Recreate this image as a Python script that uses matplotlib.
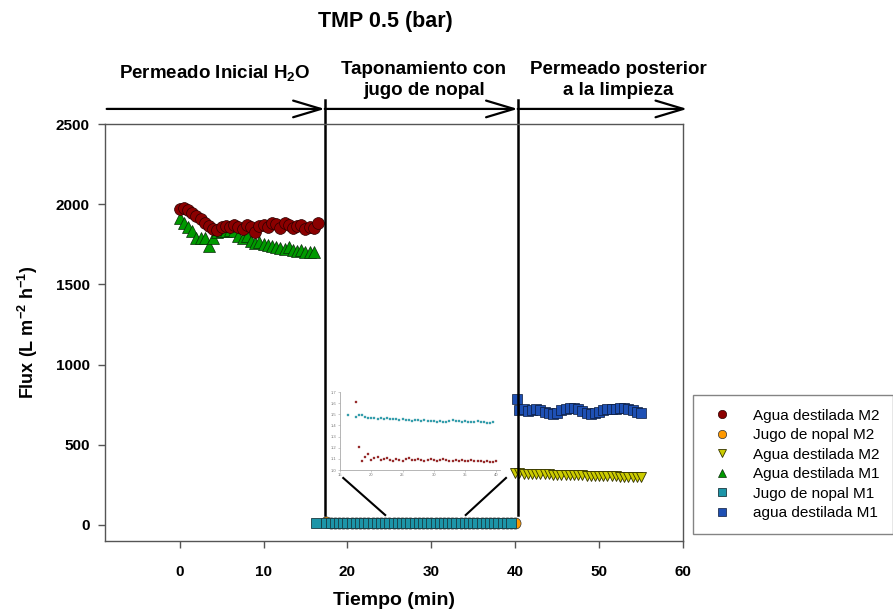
import matplotlib
matplotlib.use('Agg')
import matplotlib.pyplot as plt
from matplotlib.lines import Line2D

plt.rcParams['font.family'] = ['Liberation Sans', 'DejaVu Sans']
plt.rcParams['mathtext.fontset'] = 'custom'
plt.rcParams['mathtext.rm'] = 'Liberation Sans'
plt.rcParams['mathtext.bf'] = 'Liberation Sans:bold'
plt.rcParams['mathtext.it'] = 'Liberation Sans:italic'

# ---------------------------------------------------------------------
# data (time in min, flux in L m-2 h-1)

t_h2o = [0, 0.5, 1, 1.5, 2, 2.5, 3, 3.5, 4, 4.5, 5, 5.5, 6, 6.5, 7, 7.5,
         8, 8.5, 9, 9.5, 10, 10.5, 11, 11.5, 12, 12.5, 13, 13.5, 14, 14.5,
         15, 15.5, 16, 16.5]

agua_m2_ini = [1970, 1975, 1965, 1945, 1925, 1905, 1885, 1865, 1845, 1840,
               1860, 1865, 1855, 1870, 1860, 1845, 1870, 1855, 1825, 1865,
               1870, 1860, 1885, 1875, 1850, 1880, 1870, 1850, 1865, 1870,
               1845, 1860, 1850, 1880]

agua_m1_ini = [1915, 1880, 1860, 1830, 1790, 1790, 1790, 1740, 1790, 1825,
               1835, 1830, 1840, 1830, 1800, 1790, 1800, 1770, 1760, 1765,
               1750, 1745, 1740, 1730, 1725, 1720, 1730, 1715, 1710, 1715,
               1700, 1705, 1705]

t_jugo = [17.5, 18, 18.5, 19, 19.5, 20, 20.5, 21, 21.5, 22, 22.5, 23, 23.5,
          24, 24.5, 25, 25.5, 26, 26.5, 27, 27.5, 28, 28.5, 29, 29.5, 30,
          30.5, 31, 31.5, 32, 32.5, 33, 33.5, 34, 34.5, 35, 35.5, 36, 36.5,
          37, 37.5, 38, 38.5, 39, 39.5, 40]

jugo_m2 = [16.1, 12.1, 10.8, 11.2, 11.4, 10.9, 11.1, 11.2, 10.9, 11.0,
           11.1, 10.9, 10.8, 11.0, 10.9, 10.8, 11.0, 11.1, 10.9, 10.9,
           11.0, 10.9, 10.8, 10.9, 11.0, 10.9, 10.8, 10.9, 11.0, 10.9,
           10.8, 10.8, 10.9, 10.8, 10.9, 10.8, 10.8, 10.9, 10.8, 10.8,
           10.8, 10.7, 10.8, 10.7, 10.7, 10.8]

t_jugo_m1 = [16.3] + t_jugo[:-1]
jugo_m1 = [14.9, 14.8, 14.9, 14.9, 14.8, 14.7, 14.7, 14.7, 14.6, 14.7,
           14.6, 14.7, 14.6, 14.6, 14.6, 14.5, 14.6, 14.5, 14.5, 14.4,
           14.5, 14.5, 14.4, 14.5, 14.4, 14.4, 14.4, 14.3, 14.4, 14.3,
           14.3, 14.4, 14.5, 14.4, 14.4, 14.3, 14.4, 14.3, 14.3, 14.3,
           14.4, 14.3, 14.3, 14.2, 14.2, 14.3]

t_limp = [40.5, 41, 41.5, 42, 42.5, 43, 43.5, 44, 44.5, 45, 45.5, 46, 46.5,
          47, 47.5, 48, 48.5, 49, 49.5, 50, 50.5, 51, 51.5, 52, 52.5, 53,
          53.5, 54, 54.5, 55]

t_agua_m2_fin = [40] + t_limp
agua_m2_fin = [325, 322, 320, 319, 318, 317, 316, 315, 315, 314, 313, 312,
               312, 311, 310, 309, 309, 308, 307, 306, 306, 305, 304, 303,
               303, 302, 301, 300, 300, 299, 298]

t_agua_m1_fin = [40.2] + t_limp
agua_m1_fin = [785, 715, 720, 710, 715, 720, 715, 705, 695, 690, 700, 715,
               725, 730, 730, 725, 710, 695, 690, 695, 705, 715, 720, 720,
               725, 730, 730, 720, 715, 705, 695]

fases = [17.3, 40.3]
fase_labels = ['Permeado Inicial H$_\\mathbf{2}$O',
               'Taponamiento con\njugo de nopal',
               'Permeado posterior\na la limpieza']

# ---------------------------------------------------------------------

fig = plt.figure(figsize=(8.93, 6.14), dpi=100)
ax = fig.add_axes([105 / 893, 1 - 541 / 614, 578 / 893, 417 / 614])

ax.plot(t_jugo, jugo_m2, 'o', ms=8, mfc='#ff9900', mec='#333333', mew=0.5)
ax.plot(t_jugo_m1, jugo_m1, 's', ms=7, mfc='#1c95a8', mec='#1a3a40', mew=0.6)
ax.plot(t_h2o[:-1], agua_m1_ini, '^', ms=8, mfc='#009a00', mec='#0a2a0a', mew=0.5)
ax.plot(t_h2o, agua_m2_ini, 'o', ms=8.5, mfc='#8b0000', mec='#2a0000', mew=0.5)
ax.plot(t_agua_m2_fin, agua_m2_fin, 'v', ms=7, mfc='#cccc00', mec='#333300', mew=0.6)
ax.plot(t_agua_m1_fin, agua_m1_fin, 's', ms=7.5, mfc='#1e50b4', mec='#0a1a3a', mew=0.5)

ax.set_xlim(-8.9, 60)
ax.set_ylim(-100, 2500)
ax.set_xticks([0, 10, 20, 30, 40, 50, 60])
ax.set_yticks([0, 500, 1000, 1500, 2000, 2500])

for s in ax.spines.values():
    s.set_color('#555555')
    s.set_linewidth(1.0)

ax.tick_params(axis='both', direction='out', length=5, width=1, color='#555555',
               labelsize=11)
ax.tick_params(axis='x', pad=12)
ax.tick_params(axis='y', pad=6)
for lab in ax.get_xticklabels() + ax.get_yticklabels():
    lab.set_fontweight('bold')

ax.set_xlabel('Tiempo (min)', fontsize=14, fontweight='bold')
ax.xaxis.set_label_coords(0.5, -0.122)
ax.set_ylabel('Flux (L m$^{\\mathbf{-2}}$ h$^{\\mathbf{-1}}$)', fontsize=13,
              fontweight='bold')
ax.yaxis.set_label_coords(-0.112, 0.5)

fig.text(385 / 893, 1 - 21 / 614, 'TMP 0.5 (bar)', fontsize=15.5,
         fontweight='bold', ha='center', va='center')

# phase arrows and separators
y_arrow = 2594
bordes = [-8.7] + fases + [60.5]
for i in range(3):
    ax.annotate('', xy=(bordes[i + 1], y_arrow), xytext=(bordes[i], y_arrow),
                annotation_clip=False,
                arrowprops=dict(arrowstyle='->,head_length=1.0,head_width=0.3',
                                mutation_scale=20, lw=1.6, color='black',
                                shrinkA=0, shrinkB=0))
for b in fases:
    ax.plot([b, b], [62, 2650], color='black', lw=1.8, clip_on=False)

ax.text(4.2, 2818, fase_labels[0], fontsize=13.5, fontweight='bold',
        ha='center', va='center', clip_on=False)
ax.text(29.1, 2895, fase_labels[1], fontsize=13.5, fontweight='bold',
        ha='center', va='top', linespacing=1.3, clip_on=False)
ax.text(52.3, 2895, fase_labels[2], fontsize=13.5, fontweight='bold',
        ha='center', va='top', linespacing=1.3, clip_on=False)

# zoom lines to inset
ax.plot([19.5, 24.5], [293, 62], color='black', lw=1.5, clip_on=False)
ax.plot([38.9, 34.1], [293, 62], color='black', lw=1.5, clip_on=False)

# inset with fouling detail
axin = fig.add_axes([340 / 893, 1 - 470 / 614, 160 / 893, 78 / 614])
axin.plot(t_jugo_m1, [v / 10 for v in jugo_m1], 's', ms=1.8,
          mfc='#3aa6b4', mec='#2a8a98', mew=0.2)
axin.plot(t_jugo, [v / 10 for v in jugo_m2], 's', ms=1.8,
          mfc='#a03030', mec='#802020', mew=0.2)
axin.set_xlim(15, 40.6)
axin.set_ylim(1.0, 1.7)
axin.set_xticks([15, 20, 25, 30, 35, 40])
axin.set_yticks([1.0, 1.1, 1.2, 1.3, 1.4, 1.5, 1.6, 1.7])
axin.set_xticklabels(['15', '20', '25', '30', '35', '40'])
axin.spines['top'].set_visible(False)
axin.spines['right'].set_visible(False)
for s in ['left', 'bottom']:
    axin.spines[s].set_color('#aaaaaa')
    axin.spines[s].set_linewidth(0.6)
axin.tick_params(length=1.5, width=0.4, color='#aaaaaa', labelsize=3,
                 labelcolor='#777777', pad=1)

# legend
handles = [
    Line2D([], [], ls='none', marker='o', ms=8, mfc='#8b0000', mec='#2a0000', mew=0.5),
    Line2D([], [], ls='none', marker='o', ms=8, mfc='#ff9900', mec='#333333', mew=0.5),
    Line2D([], [], ls='none', marker='v', ms=8, mfc='#cccc00', mec='#333300', mew=0.6),
    Line2D([], [], ls='none', marker='^', ms=8, mfc='#009a00', mec='#0a2a0a', mew=0.5),
    Line2D([], [], ls='none', marker='s', ms=7, mfc='#1c95a8', mec='#1a3a40', mew=0.6),
    Line2D([], [], ls='none', marker='s', ms=7, mfc='#1e50b4', mec='#0a1a3a', mew=0.5),
]
labels = ['Agua destilada M2', 'Jugo de nopal M2', 'Agua destilada M2',
          'Agua destilada M1', 'Jugo de nopal M1', 'agua destilada M1']
leg = fig.legend(handles, labels, loc='upper left',
                 bbox_to_anchor=(693 / 893, 1 - 395 / 614),
                 fontsize=11, markerscale=0.75, frameon=True, fancybox=False,
                 borderpad=0.9, handlelength=2.0, handletextpad=1.0,
                 labelspacing=0.36, borderaxespad=0)
leg.get_frame().set_edgecolor('#666666')
leg.get_frame().set_linewidth(1.0)

fig.savefig('out.png', dpi=100)
